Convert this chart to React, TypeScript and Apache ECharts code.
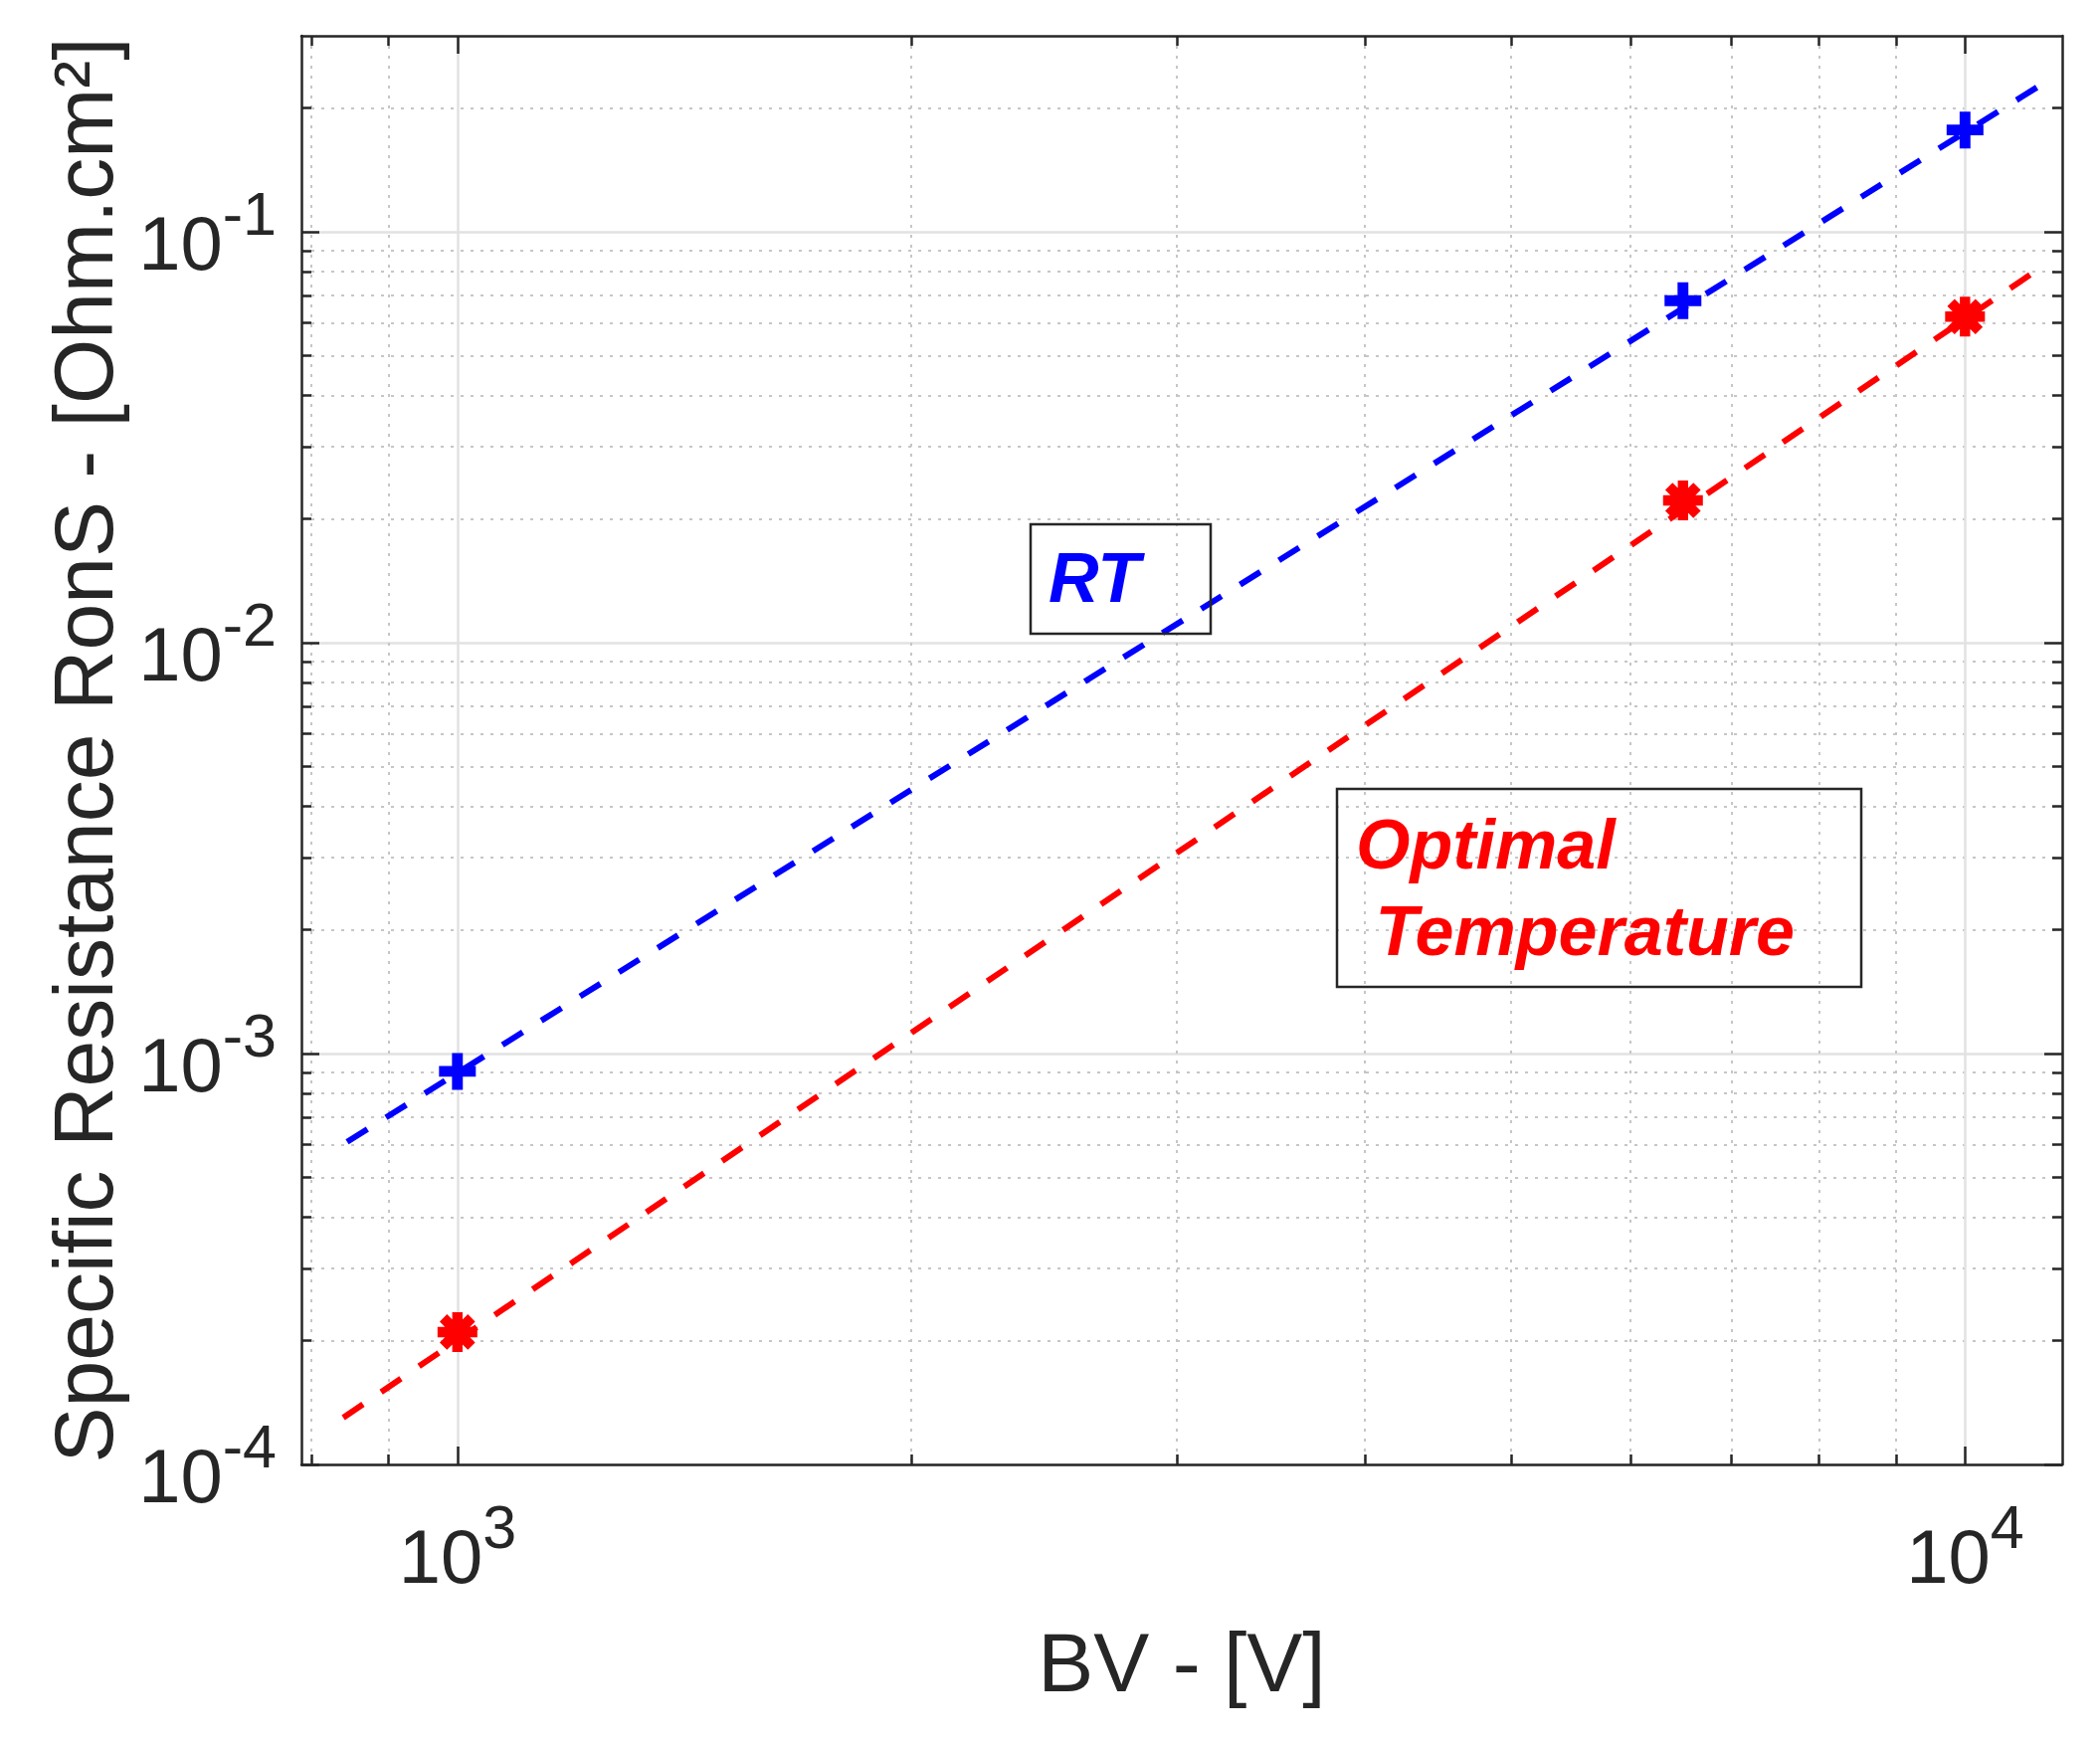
import React, { useEffect, useRef } from "react";
import * as echarts from "echarts";

// ---------- data ----------
const xRange = [788, 11600];
const yRange = [1e-4, 0.3];
const xMajorTicks = [1000, 10000];
const xMinorTicks = [800, 900, 2000, 3000, 4000, 5000, 6000, 7000, 8000, 9000];
const yMajorTicks = [1e-4, 1e-3, 1e-2, 1e-1];
const yMinorTicks = [
  2e-4, 3e-4, 4e-4, 5e-4, 6e-4, 7e-4, 8e-4, 9e-4,
  2e-3, 3e-3, 4e-3, 5e-3, 6e-3, 7e-3, 8e-3, 9e-3,
  2e-2, 3e-2, 4e-2, 5e-2, 6e-2, 7e-2, 8e-2, 9e-2,
  0.2,
];

const bvPoints = [1000, 6500, 10000];
const rtValues = [9.05e-4, 0.068, 0.177];
const optValues = [2.1e-4, 0.0222, 0.0622];

const rtFitBV = [845, 11210];
const rtFitValues = [6.1e-4, 0.227];
const optFitBV = [840, 11090];
const optFitValues = [1.3e-4, 0.0794];

const xTitle = "BV - [V]";
const yTitle = "Specific Resistance RonS - [Ohm.cm\u00B2]";
const rtLabel = "RT";
const optLabelLines = ["Optimal", " Temperature"];

// ---------- styles ----------
const FONT = '"Liberation Sans", Arial, Helvetica, sans-serif';
const AX = "#262626";
const BLUE = "#0000ff";
const RED = "#ff0000";
const MAJOR_GRID = "#e2e2e2";
const MINOR_GRID = "#c6c6c6";

const PLUS_PATH =
  "path://M12,0 L22,0 L22,12 L34,12 L34,22 L22,22 L22,34 L12,34 L12,22 L0,22 L0,12 L12,12 Z";
const STAR_PATH =
  "path://M0,37 L100,37 L100,63 L0,63 Z " +
  "M63,0 L63,100 L37,100 L37,0 Z " +
  "M23.8,5.45 L94.55,76.2 L76.2,94.55 L5.45,23.8 Z " +
  "M5.45,76.2 L76.2,5.45 L94.55,23.8 L23.8,94.55 Z";

const zip = (xs: number[], ys: number[]) => xs.map((x, i) => [x, ys[i]]);

const expFormatter = (v: number) =>
  `{p| }{b|10}{s|${Math.round(Math.log10(v))}}`;
const rich = {
  p: {
    fontSize: 1,
    lineHeight: 98,
    verticalAlign: "middle",
    fontFamily: FONT,
    color: AX,
  },
  b: {
    fontSize: 76,
    lineHeight: 76,
    verticalAlign: "bottom",
    fontFamily: FONT,
    color: AX,
  },
  s: {
    fontSize: 61,
    lineHeight: 61,
    verticalAlign: "top",
    fontFamily: FONT,
    color: AX,
  },
};

function xAxisDef(position: string, minor: boolean, main: boolean) {
  return {
    type: "log",
    logBase: 10,
    min: xRange[0],
    max: xRange[1],
    position,
    gridIndex: 0,
    name: main ? xTitle : undefined,
    nameLocation: "middle",
    nameGap: 157,
    nameTextStyle: { fontSize: 84, fontFamily: FONT, color: AX },
    axisLine: { show: !minor, lineStyle: { color: AX, width: 2.5 } },
    axisTick: {
      show: true,
      inside: true,
      length: minor ? 10 : 18,
      customValues: minor ? xMinorTicks : xMajorTicks,
      lineStyle: { color: AX, width: 2.5 },
    },
    axisLabel: main
      ? {
          show: true,
          customValues: xMajorTicks,
          margin: 32,
          fontSize: 76,
          fontFamily: FONT,
          color: AX,
          formatter: expFormatter,
          rich,
        }
      : { show: false },
    splitLine:
      position === "bottom"
        ? {
            show: true,
            lineStyle: minor
              ? { color: MINOR_GRID, width: 2, type: [3, 7] }
              : { color: MAJOR_GRID, width: 2.5, type: "solid" },
          }
        : { show: false },
    minorTick: { show: false },
    minorSplitLine: { show: false },
    axisPointer: { show: false },
  };
}

function yAxisDef(position: string, minor: boolean, main: boolean) {
  return {
    type: "log",
    logBase: 10,
    min: yRange[0],
    max: yRange[1],
    position,
    gridIndex: 0,
    name: main ? yTitle : undefined,
    nameLocation: "middle",
    nameGap: 177,
    nameTextStyle: { fontSize: 84, fontFamily: FONT, color: AX },
    axisLine: { show: !minor, lineStyle: { color: AX, width: 2.5 } },
    axisTick: {
      show: true,
      inside: true,
      length: minor ? 10 : 18,
      customValues: minor ? yMinorTicks : yMajorTicks,
      lineStyle: { color: AX, width: 2.5 },
    },
    axisLabel: main
      ? {
          show: true,
          customValues: yMajorTicks,
          margin: 25,
          fontSize: 76,
          fontFamily: FONT,
          color: AX,
          formatter: expFormatter,
          rich,
        }
      : { show: false },
    splitLine:
      position === "left"
        ? {
            show: true,
            lineStyle: minor
              ? { color: MINOR_GRID, width: 2, type: [3, 7] }
              : { color: MAJOR_GRID, width: 2.5, type: "solid" },
          }
        : { show: false },
    minorTick: { show: false },
    minorSplitLine: { show: false },
    axisPointer: { show: false },
  };
}

const annotationText = (text: string, x: number, y: number, fill: string) => ({
  type: "text",
  z: 101,
  x,
  y,
  style: {
    text,
    fill,
    fontSize: 70,
    fontWeight: "bold",
    fontStyle: "italic",
    fontFamily: FONT,
    verticalAlign: "middle",
    align: "left",
  },
});

function buildOption() {
  return {
    animation: false,
    backgroundColor: "#ffffff",
    grid: { left: 303, right: 38, top: 36, bottom: 279, containLabel: false },
    xAxis: [
      xAxisDef("bottom", false, true),
      xAxisDef("bottom", true, false),
      xAxisDef("top", false, false),
      xAxisDef("top", true, false),
    ],
    yAxis: [
      yAxisDef("left", false, true),
      yAxisDef("left", true, false),
      yAxisDef("right", false, false),
      yAxisDef("right", true, false),
    ],
    series: [
      {
        name: "RT fit",
        type: "line",
        xAxisIndex: 0,
        yAxisIndex: 0,
        data: zip(rtFitBV, rtFitValues),
        showSymbol: false,
        symbol: "none",
        lineStyle: { color: BLUE, width: 6, type: [24, 22], cap: "butt" },
        z: 3,
      },
      {
        name: "Optimal fit",
        type: "line",
        xAxisIndex: 0,
        yAxisIndex: 0,
        data: zip(optFitBV, optFitValues),
        showSymbol: false,
        symbol: "none",
        lineStyle: { color: RED, width: 6, type: [24, 22], cap: "butt" },
        z: 3,
      },
      {
        name: "RT",
        type: "scatter",
        xAxisIndex: 0,
        yAxisIndex: 0,
        data: zip(bvPoints, rtValues),
        symbol: PLUS_PATH,
        symbolSize: 37,
        itemStyle: { color: BLUE, opacity: 1 },
        z: 4,
      },
      {
        name: "Optimal Temperature",
        type: "scatter",
        xAxisIndex: 0,
        yAxisIndex: 0,
        data: zip(bvPoints, optValues),
        symbol: STAR_PATH,
        symbolSize: 40,
        itemStyle: { color: RED, opacity: 1 },
        z: 4,
      },
    ],
    graphic: [
      {
        type: "rect",
        z: 100,
        shape: { x: 1036, y: 527, width: 181, height: 110 },
        style: { fill: "none", stroke: AX, lineWidth: 2.5 },
      },
      annotationText(rtLabel, 1054, 581, BLUE),
      {
        type: "rect",
        z: 100,
        shape: { x: 1344, y: 793, width: 527, height: 199 },
        style: { fill: "none", stroke: AX, lineWidth: 2.5 },
      },
      annotationText(optLabelLines[0], 1363, 849, RED),
      annotationText(optLabelLines[1], 1363, 936, RED),
    ],
  };
}

export default function App() {
  const ref = useRef<HTMLDivElement>(null);
  useEffect(() => {
    if (!ref.current) return;
    const chart = echarts.init(ref.current, undefined, { renderer: "svg" });
    chart.setOption(buildOption() as any);
    return () => chart.dispose();
  }, []);
  return (
    <div
      ref={ref}
      style={{
        position: "fixed",
        left: 0,
        top: 0,
        width: 2111,
        height: 1751,
        background: "#ffffff",
      }}
    />
  );
}
